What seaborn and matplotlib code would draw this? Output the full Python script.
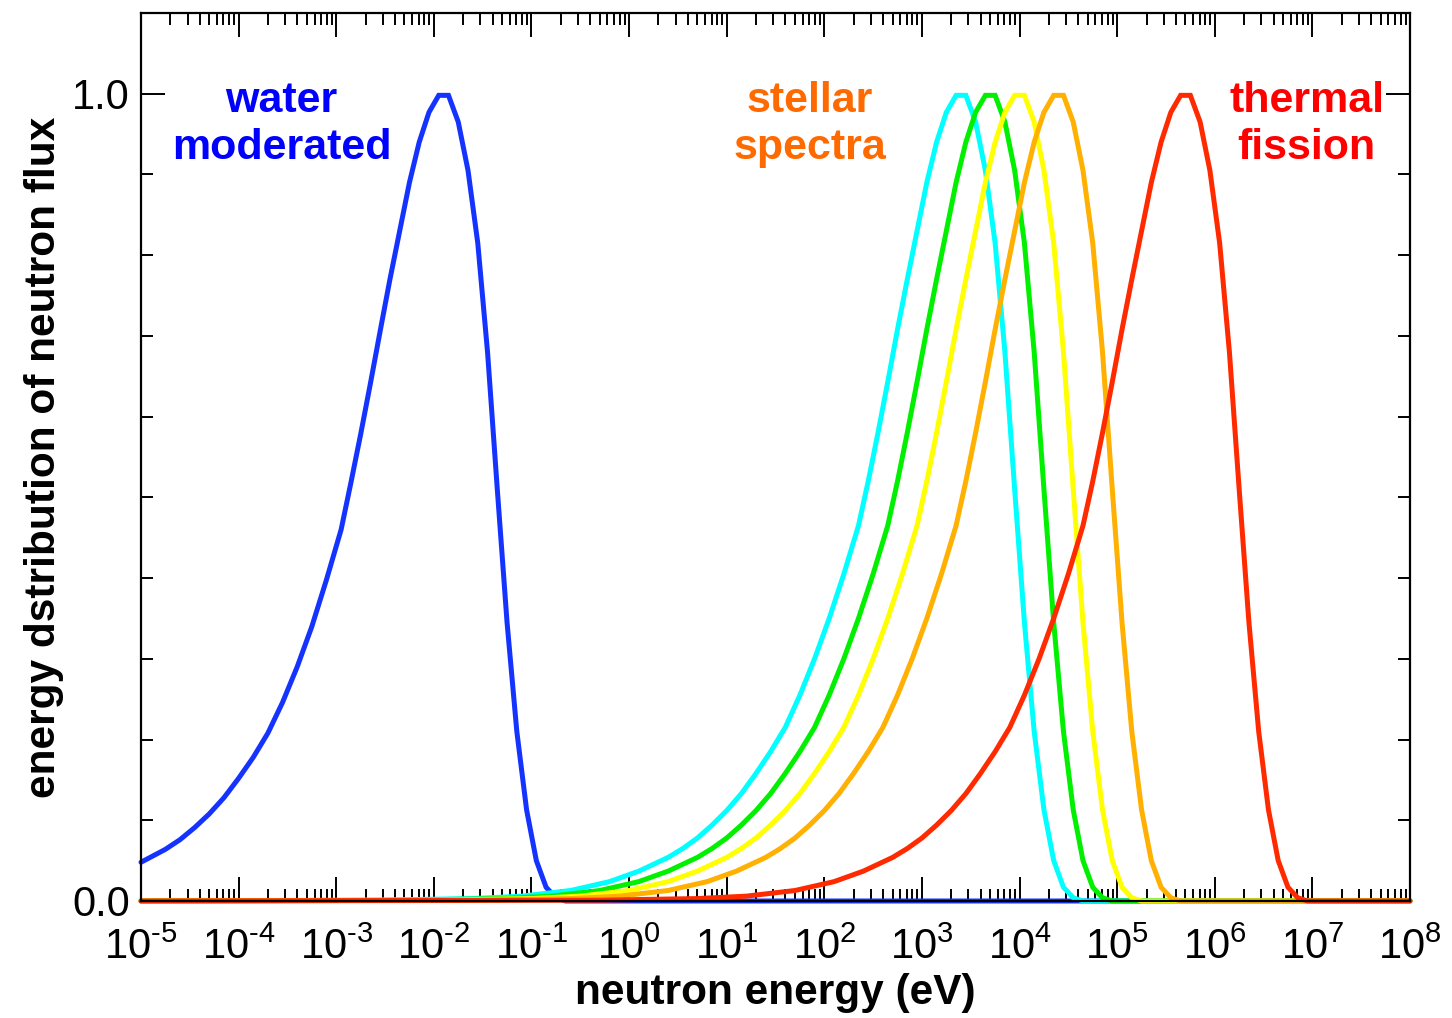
import numpy as np
import pandas as pd
import matplotlib
matplotlib.use("Agg")
import matplotlib.pyplot as plt
import seaborn as sns
from matplotlib.ticker import FixedLocator, LogLocator, NullFormatter, FixedFormatter

# ---- spectra: log10(energy / eV) and normalised flux per energy decade ----
water_logE = [-5.0, -4.75, -4.6, -4.45, -4.3, -4.15, -4.0, -3.85, -3.7, -3.55,
              -3.4, -3.25, -3.1, -2.95,
              -2.85, -2.75, -2.65, -2.55, -2.45, -2.35, -2.25, -2.15, -2.05,
              -1.95, -1.85, -1.75, -1.65, -1.55, -1.45, -1.35, -1.25, -1.15,
              -1.05, -0.95, -0.85, -0.75, -0.65, 8.0]
water_flux = [0.048, 0.064, 0.076, 0.091, 0.108, 0.128, 0.152, 0.178, 0.208,
              0.246, 0.29, 0.34, 0.398, 0.46,
              0.518, 0.578, 0.641, 0.706, 0.77, 0.83, 0.89, 0.94, 0.977,
              0.998, 0.998, 0.965, 0.905, 0.815, 0.68, 0.51, 0.345, 0.21,
              0.113, 0.05, 0.017, 0.004, 0.0, 0.0]

cyan_logE = [-5.0, -2.6, -1.6, -1.1, -0.6, -0.2, 0.1, 0.4, 0.55, 0.7, 0.85,
             1.0, 1.15, 1.3, 1.45, 1.6, 1.75, 1.9, 2.05, 2.2, 2.35,
             2.45, 2.55, 2.65, 2.75, 2.85, 2.95, 3.05, 3.15, 3.25, 3.35, 3.45,
             3.55, 3.65, 3.75, 3.85, 3.95, 4.05, 4.15, 4.25, 4.35, 4.45, 4.55,
             4.65, 8.0]
cyan_flux = [0.0, 0.001, 0.003, 0.006, 0.013, 0.024, 0.037, 0.054, 0.065,
             0.078, 0.094, 0.112, 0.133, 0.158, 0.185, 0.215, 0.255, 0.30,
             0.35, 0.405, 0.465,
             0.52, 0.58, 0.643, 0.708, 0.77, 0.83, 0.89, 0.94, 0.977, 0.998,
             0.998, 0.965, 0.905, 0.815, 0.68, 0.51, 0.345, 0.21, 0.113, 0.05,
             0.017, 0.004, 0.0, 0.0]

green_logE = [-5.0, -2.3, -1.3, -0.8, -0.3, 0.1, 0.4, 0.7, 0.85, 1.0, 1.15,
              1.3, 1.45, 1.6, 1.75, 1.9, 2.05, 2.2, 2.35, 2.5, 2.65,
              2.75, 2.85, 2.95, 3.05, 3.15, 3.25, 3.35, 3.45, 3.55, 3.65, 3.75,
              3.85, 3.95, 4.05, 4.15, 4.25, 4.35, 4.45, 4.55, 4.65, 4.75, 4.85,
              4.95, 8.0]
green_flux = [0.0, 0.001, 0.003, 0.006, 0.013, 0.024, 0.037, 0.054, 0.065,
              0.078, 0.094, 0.112, 0.133, 0.158, 0.185, 0.215, 0.255, 0.30,
              0.35, 0.405, 0.465,
              0.52, 0.58, 0.643, 0.708, 0.77, 0.83, 0.89, 0.94, 0.977, 0.998,
              0.998, 0.965, 0.905, 0.815, 0.68, 0.51, 0.345, 0.21, 0.113, 0.05,
              0.017, 0.004, 0.0, 0.0]

yellow_logE = [-5.0, -2.0, -1.0, -0.5, 0.0, 0.4, 0.7, 1.0, 1.15, 1.3, 1.45,
               1.6, 1.75, 1.9, 2.05, 2.2, 2.35, 2.5, 2.65, 2.8, 2.95,
               3.05, 3.15, 3.25, 3.35, 3.45, 3.55, 3.65, 3.75, 3.85, 3.95,
               4.05, 4.15, 4.25, 4.35, 4.45, 4.55, 4.65, 4.75, 4.85, 4.95,
               5.05, 5.15, 5.25, 8.0]
yellow_flux = [0.0, 0.001, 0.003, 0.006, 0.013, 0.024, 0.037, 0.054, 0.065,
               0.078, 0.094, 0.112, 0.133, 0.158, 0.185, 0.215, 0.255, 0.30,
               0.35, 0.405, 0.465,
               0.52, 0.58, 0.643, 0.708, 0.77, 0.83, 0.89, 0.94, 0.977, 0.998,
               0.998, 0.965, 0.905, 0.815, 0.68, 0.51, 0.345, 0.21, 0.113,
               0.05, 0.017, 0.004, 0.0, 0.0]

orange_logE = [-5.0, -1.6, -0.6, -0.1, 0.4, 0.8, 1.1, 1.4, 1.55, 1.7, 1.85,
               2.0, 2.15, 2.3, 2.45, 2.6, 2.75, 2.9, 3.05, 3.2, 3.35,
               3.45, 3.55, 3.65, 3.75, 3.85, 3.95, 4.05, 4.15, 4.25, 4.35,
               4.45, 4.55, 4.65, 4.75, 4.85, 4.95, 5.05, 5.15, 5.25, 5.35,
               5.45, 5.55, 5.65, 8.0]
orange_flux = [0.0, 0.001, 0.003, 0.006, 0.013, 0.024, 0.037, 0.054, 0.065,
               0.078, 0.094, 0.112, 0.133, 0.158, 0.185, 0.215, 0.255, 0.30,
               0.35, 0.405, 0.465,
               0.52, 0.58, 0.643, 0.708, 0.77, 0.83, 0.89, 0.94, 0.977, 0.998,
               0.998, 0.965, 0.905, 0.815, 0.68, 0.51, 0.345, 0.21, 0.113,
               0.05, 0.017, 0.004, 0.0, 0.0]

fission_logE = [-5.0, -0.3, 0.7, 1.2, 1.7, 2.1, 2.4, 2.7, 2.85, 3.0, 3.15,
                3.3, 3.45, 3.6, 3.75, 3.9, 4.05, 4.2, 4.35, 4.5, 4.65,
                4.75, 4.85, 4.95, 5.05, 5.15, 5.25, 5.35, 5.45, 5.55, 5.65,
                5.75, 5.85, 5.95, 6.05, 6.15, 6.25, 6.35, 6.45, 6.55, 6.65,
                6.75, 6.85, 6.95, 8.0]
fission_flux = [0.0, 0.001, 0.003, 0.006, 0.013, 0.024, 0.037, 0.054, 0.065,
                0.078, 0.094, 0.112, 0.133, 0.158, 0.185, 0.215, 0.255, 0.30,
                0.35, 0.405, 0.465,
                0.52, 0.58, 0.643, 0.708, 0.77, 0.83, 0.89, 0.94, 0.977, 0.998,
                0.998, 0.965, 0.905, 0.815, 0.68, 0.51, 0.345, 0.21, 0.113,
                0.05, 0.017, 0.004, 0.0, 0.0]

series = [
    ("water", water_logE, water_flux, "#1533ff"),
    ("cyan", cyan_logE, cyan_flux, "#00ffff"),
    ("green", green_logE, green_flux, "#00f000"),
    ("yellow", yellow_logE, yellow_flux, "#ffff00"),
    ("orange", orange_logE, orange_flux, "#ffb000"),
    ("fission", fission_logE, fission_flux, "#ff2a00"),
]

decades = list(range(-5, 9))
y_major = [0.0, 1.0]
y_major_labels = ["0.0", "1.0"]
y_minor = [0.1, 0.2, 0.3, 0.4, 0.5, 0.6, 0.7, 0.8, 0.9]

labels = [
    ("water\nmoderated", -3.56, "#0000ff"),
    ("stellar\nspectra", 1.855, "#ff6a00"),
    ("thermal\nfission", 6.94, "#ff0000"),
]

# ---- styling ----
sns.set_style("ticks")
plt.rcParams["font.family"] = ["Liberation Sans", "DejaVu Sans"]
plt.rcParams["mathtext.fontset"] = "custom"
plt.rcParams["mathtext.rm"] = "Liberation Sans"
plt.rcParams["mathtext.it"] = "Liberation Sans:italic"
plt.rcParams["mathtext.bf"] = "Liberation Sans:bold"
for key in ("text.color", "axes.labelcolor", "xtick.color", "ytick.color",
            "axes.edgecolor"):
    plt.rcParams[key] = "black"

fig = plt.figure(figsize=(14.52, 10.18), dpi=100)
ax = fig.add_axes([141 / 1452, 1 - 901 / 1018, (1410 - 141) / 1452, (901 - 13) / 1018])
ax.set_xscale("log")

for name, logE, flux, color in series:
    df = pd.DataFrame({"E": np.power(10.0, logE), "flux": flux})
    sns.lineplot(data=df, x="E", y="flux", ax=ax, color=color, lw=3.6,
                 estimator=None, sort=False, legend=False, clip_on=False,
                 solid_joinstyle="miter")

ax.set_xlim(1e-5, 1e8)
ax.set_ylim(0.0, 1.1)

# x axis: decade labels, log minor ticks
ax.xaxis.set_major_locator(FixedLocator([10.0 ** d for d in decades]))
ax.xaxis.set_major_formatter(FixedFormatter(
    [r"$\mathregular{10^{\text{%d}}}$" % d for d in decades]))
ax.xaxis.set_minor_locator(LogLocator(base=10, subs=np.arange(2, 10), numticks=100))
ax.xaxis.set_minor_formatter(NullFormatter())

# y axis: only 0.0 and 1.0 labelled, tenths as minor ticks
ax.yaxis.set_major_locator(FixedLocator(y_major))
ax.yaxis.set_major_formatter(FixedFormatter(y_major_labels))
ax.yaxis.set_minor_locator(FixedLocator(y_minor))

ax.tick_params(which="both", direction="in", top=True, right=True,
               color="black", width=1.4)
ax.tick_params(which="major", length=17)
ax.tick_params(which="minor", length=8.5)
ax.tick_params(axis="x", which="major", labelsize=30, pad=19)
ax.tick_params(axis="y", which="major", labelsize=30, pad=8)

for sp in ax.spines.values():
    sp.set_linewidth(1.6)
    sp.set_color("black")
    sp.set_zorder(5)

ax.set_xlabel("neutron energy (eV)", fontsize=30.5, fontweight="bold", labelpad=4)
ax.set_ylabel("energy dstribution of neutron flux", fontsize=30.5,
              fontweight="bold", labelpad=6)

for text, lx, color in labels:
    ax.text(10.0 ** lx, 0.962, text, color=color, fontsize=31, fontweight="bold",
            ha="center", va="center", linespacing=1.2)

fig.savefig("out.png", dpi=100)
